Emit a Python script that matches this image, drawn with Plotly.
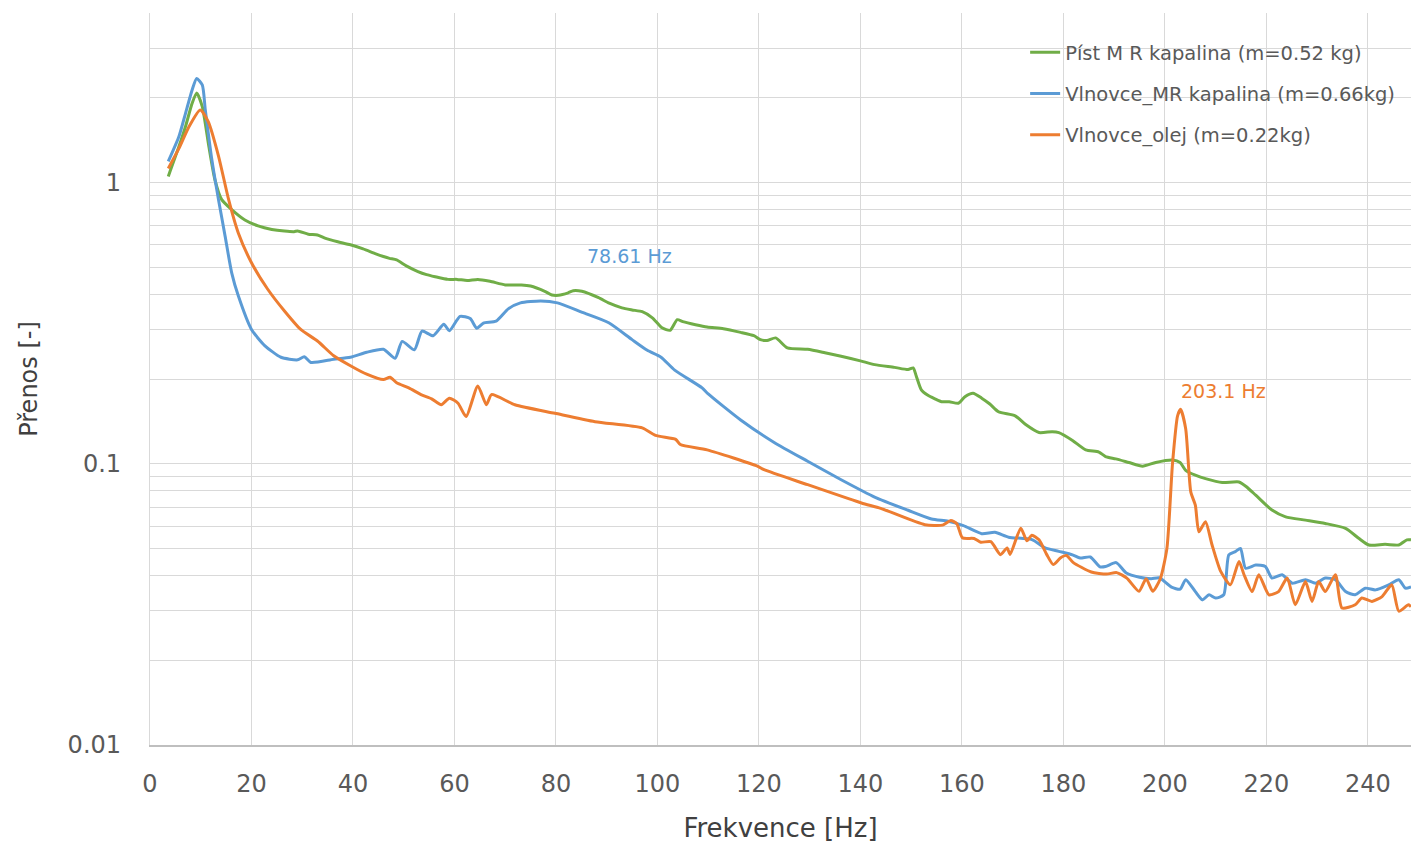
import numpy as np
import plotly.graph_objects as go

# Píst MR kapalina (m=0.52 kg)
pist_f = [3.6, 5.7, 7.0, 8.3, 9.2, 10.3, 11.6, 12.8, 14.1, 16.1, 18.7, 21.3, 24, 26.5, 28.4, 29.1,
          31.2, 33, 34.6, 37, 39.5, 42, 44.5, 46, 47.2, 48.6, 50.5, 52.8, 54.5, 56.2, 58.7, 60.5,
          62.5, 64.6, 67, 70, 73.2, 75, 77.8, 79.2, 80.5, 82.4, 83.4, 85.1, 88.4, 90.5, 93, 95,
          97, 99, 100.9, 102.5, 103.9, 105, 107.5, 109.8, 113, 116.4, 119, 120.3, 121.6, 123.3,
          125.6, 129.6, 133, 136.2, 140, 142.8, 146.7, 149.4, 150.4, 151, 152, 153.3, 154.7, 156,
          157.5, 159.3, 160.6, 162.2, 163.9, 165.5, 167.2, 170.5, 172.5, 175.2, 177.8, 179.1,
          181.8, 184.4, 187, 188.3, 190.3, 192.9, 195.6, 198.2, 201.5, 203, 204.1, 206, 208,
          211.3, 214.6, 216, 217.9, 221.1, 223.8, 227.7, 231.6, 235.6, 238.2, 240.2, 243.4,
          246.1, 247.7, 248.5]
pist_v = [1.05, 1.34, 1.58, 1.91, 2.08, 1.86, 1.34, 1.02, 0.87, 0.80, 0.735, 0.70, 0.68, 0.671,
          0.668, 0.672, 0.654, 0.65, 0.632, 0.615, 0.60, 0.58, 0.557, 0.545, 0.537, 0.53, 0.505,
          0.482, 0.47, 0.462, 0.452, 0.452, 0.448, 0.452, 0.445, 0.432, 0.432, 0.428, 0.41,
          0.398, 0.397, 0.405, 0.412, 0.41, 0.389, 0.372, 0.358, 0.352, 0.347, 0.33, 0.304,
          0.298, 0.325, 0.32, 0.312, 0.306, 0.302, 0.293, 0.285, 0.276, 0.274, 0.28, 0.258,
          0.255, 0.248, 0.241, 0.232, 0.225, 0.22, 0.216, 0.219, 0.205, 0.183, 0.175, 0.17,
          0.166, 0.166, 0.164, 0.173, 0.178, 0.171, 0.163, 0.153, 0.148, 0.138, 0.129, 0.13,
          0.129, 0.121, 0.112, 0.11, 0.106, 0.104, 0.101, 0.098, 0.101, 0.103, 0.101, 0.0947,
          0.091, 0.0885, 0.0857, 0.0861, 0.083, 0.0773, 0.0684, 0.0647, 0.063, 0.0613, 0.0589,
          0.0543, 0.0514, 0.0517, 0.0514, 0.0536, 0.0536]

# Vlnovce_MR kapalina (m=0.66kg)
mr_f = [3.6, 5.7, 7.0, 8.3, 9.2, 10.3, 10.9, 12.2, 13.5, 14.8, 16.1, 17.4, 20, 22.6, 25.8, 29.1,
        30.4, 31.7, 36.2, 39.5, 42.7, 46, 48.3, 49.7, 52.1, 53.6, 55.8, 57.9, 59, 61.1, 63.1,
        64.4, 65.7, 68.2, 70.6, 73, 77, 80.3, 85.2, 90.4, 95, 98, 100.7, 103.4, 108.8, 110,
        116.4, 123, 129.6, 136.2, 142.8, 149.4, 154, 157.3, 160.3, 163.9, 166.5, 169.2, 173.8,
        176.4, 179.1, 181.8, 183.3, 185.3, 187.2, 188.3, 190.4, 192.4, 195, 197.3, 198.9, 201.3,
        203, 204.1, 206, 207.4, 208.7, 210, 211.6, 212.6, 213.9, 214.9, 215.9, 217.9, 219.8,
        221.1, 223.1, 225.1, 227.7, 229.7, 231.6, 233.6, 235.6, 237.5, 239.5, 241.5, 244.1,
        246.1, 247.4, 248.5]
mr_v = [1.187, 1.455, 1.76, 2.13, 2.34, 2.22, 1.81, 1.2, 0.868, 0.644, 0.477, 0.395, 0.30, 0.263,
        0.239, 0.234, 0.24, 0.229, 0.235, 0.239, 0.249, 0.255, 0.237, 0.272, 0.254, 0.296,
        0.285, 0.313, 0.297, 0.334, 0.328, 0.303, 0.316, 0.321, 0.355, 0.373, 0.379, 0.373,
        0.345, 0.317, 0.276, 0.253, 0.239, 0.215, 0.186, 0.177, 0.143, 0.119, 0.102, 0.0877,
        0.0761, 0.0683, 0.0636, 0.0624, 0.0602, 0.0564, 0.057, 0.0548, 0.0537, 0.0502, 0.0488,
        0.0474, 0.0462, 0.0466, 0.043, 0.0431, 0.0445, 0.0409, 0.0395, 0.039, 0.0393, 0.0364,
        0.0358, 0.0387, 0.0351, 0.0328, 0.0342, 0.0333, 0.0342, 0.0474, 0.0487, 0.05, 0.0425,
        0.0436, 0.0431, 0.0392, 0.0403, 0.0376, 0.0387, 0.0376, 0.0392, 0.0387, 0.0351, 0.0342,
        0.0361, 0.0356, 0.0371, 0.0387, 0.0361, 0.0365]

# Vlnovce_olej (m=0.22kg)
olej_f = [3.6, 5.7, 7.7, 9.9, 11.5, 13.5, 15.5, 17.4, 20, 23.2, 26.5, 29.7, 33, 36.2, 39.5, 42.7,
          46, 47.3, 48.6, 51, 53.4, 55.5, 57.4, 59, 60.7, 62.3, 64.6, 66.3, 67.3, 71.9, 79.8,
          87.7, 97, 99.6, 103.6, 104.5, 109.8, 119.7, 121, 129.6, 140.2, 144, 152.7, 156.2, 157.8,
          159, 160.1, 162.4, 163.7, 165.7, 167.6, 168.9, 169.5, 171.6, 172.8, 173.8, 175.2,
          176.7, 178, 179.4, 180.6, 181.9, 185.5, 188.5, 190.5, 192.5, 194.9, 196.3, 197.6,
          199.1, 200.4, 201.5, 202.5, 203.1, 204.1, 205.1, 206, 206.7, 208, 209.3, 211, 212.9,
          214.6, 215.6, 217.2, 218.5, 220.5, 222.4, 224.1, 225.7, 227.7, 229, 230.3, 231.6,
          233.6, 234.9, 237.5, 238.8, 240.8, 242.8, 244.7, 246.1, 248, 248.5]
olej_v = [1.12, 1.32, 1.58, 1.81, 1.64, 1.24, 0.868, 0.661, 0.518, 0.417, 0.349, 0.30, 0.273,
          0.242, 0.223, 0.208, 0.199, 0.203, 0.194, 0.186, 0.176, 0.17, 0.162, 0.171, 0.164,
          0.147, 0.189, 0.162, 0.176, 0.162, 0.151, 0.141, 0.134, 0.126, 0.122, 0.117, 0.112,
          0.098, 0.0952, 0.0842, 0.0725, 0.0694, 0.0607, 0.0605, 0.0628, 0.0612, 0.0545, 0.0542,
          0.0526, 0.0528, 0.0475, 0.0502, 0.0476, 0.059, 0.0532, 0.0557, 0.0536, 0.0476, 0.0438,
          0.0462, 0.0472, 0.0446, 0.0412, 0.0405, 0.041, 0.0392, 0.0352, 0.039, 0.0352, 0.039,
          0.05, 0.10, 0.148, 0.156, 0.133, 0.0794, 0.0712, 0.0573, 0.0622, 0.0514, 0.0414,
          0.0371, 0.0449, 0.0403, 0.0351, 0.0403, 0.0342, 0.0351, 0.0392, 0.0315, 0.0381,
          0.0324, 0.0381, 0.0351, 0.0403, 0.0307, 0.0315, 0.0333, 0.0324, 0.0337, 0.0371,
          0.0299, 0.0315, 0.031]

x_ticks = list(range(0, 250, 20))
y_ticks = [0.01, 0.1, 1]
y_ticktext = ["0.01", "0.1", "1"]
y_minor = [0.02, 0.03, 0.04, 0.05, 0.06, 0.07, 0.08, 0.09,
           0.2, 0.3, 0.4, 0.5, 0.6, 0.7, 0.8, 0.9, 2, 3, 4]

GREEN = "#70AD47"
BLUE = "#5B9BD5"
ORANGE = "#ED7D31"
FONT = "DejaVu Sans"

fig = go.Figure()
series = [
    (pist_f, pist_v, "Píst M R kapalina (m=0.52 kg)", GREEN),
    (mr_f, mr_v, "Vlnovce_MR kapalina (m=0.66kg)", BLUE),
    (olej_f, olej_v, "Vlnovce_olej (m=0.22kg)", ORANGE),
]
for i, (f, v, name, col) in enumerate(series):
    fig.add_trace(go.Scatter(x=f, y=v, mode="lines", name=name, legendgroup=str(i),
                             line=dict(color=col, width=3, shape="spline", smoothing=0.6)))

# data labels at the resonance peaks
fig.add_annotation(x=78.61, y=np.log10(0.376), text="78.61 Hz", showarrow=False,
                   xshift=81, yshift=46, font=dict(family=FONT, size=19, color=BLUE))
fig.add_annotation(x=203.1, y=np.log10(0.156), text="203.1 Hz", showarrow=False,
                   xshift=43, yshift=18, font=dict(family=FONT, size=19, color=ORANGE))

# white box behind legend
fig.add_shape(type="rect", xref="paper", yref="paper", x0=0.6527, x1=1.0, y0=0.802, y1=0.977,
              fillcolor="white", line=dict(width=0), layer="between")

fig.update_layout(
    width=1411, height=843,
    margin=dict(l=150, r=0, t=13, b=98),
    plot_bgcolor="white", paper_bgcolor="white",
    font=dict(family=FONT, color="#595959"),
    legend=dict(x=0.694, y=0.9727, xanchor="left", yanchor="top", bgcolor="rgba(0,0,0,0)",
                font=dict(family=FONT, size=19.5, color="#595959"), tracegroupgap=13),
    xaxis=dict(range=[0, 248.5], tickvals=x_ticks, showgrid=True, gridcolor="#D9D9D9",
               gridwidth=1.3, showline=True, linecolor="#BFBFBF", linewidth=1.5,
               ticks="", ticklabelstandoff=16, zeroline=False, automargin=False,
               tickfont=dict(family=FONT, size=24, color="#595959"),
               title=dict(text="Frekvence [Hz]", standoff=34,
                          font=dict(family=FONT, size=26, color="#404040"))),
    yaxis=dict(type="log", range=[-2, np.log10(4)], tickvals=y_ticks, ticktext=y_ticktext,
               showgrid=True, gridcolor="#D9D9D9", gridwidth=1.3, showline=True,
               linecolor="#D9D9D9", linewidth=1.3, ticks="", ticklabelstandoff=23,
               automargin=False,
               minor=dict(tickvals=y_minor, showgrid=True, gridcolor="#D9D9D9", gridwidth=1.3),
               tickfont=dict(family=FONT, size=24, color="#595959"),
               title=dict(text="Přenos [-]", standoff=23,
                          font=dict(family=FONT, size=24, color="#404040"))),
)

# drop the default page margin so the figure fills the window exactly
fig.write_html("out.html", config={"displayModeBar": False},
               post_script="document.body.style.margin='0';document.body.style.overflow='hidden';")
